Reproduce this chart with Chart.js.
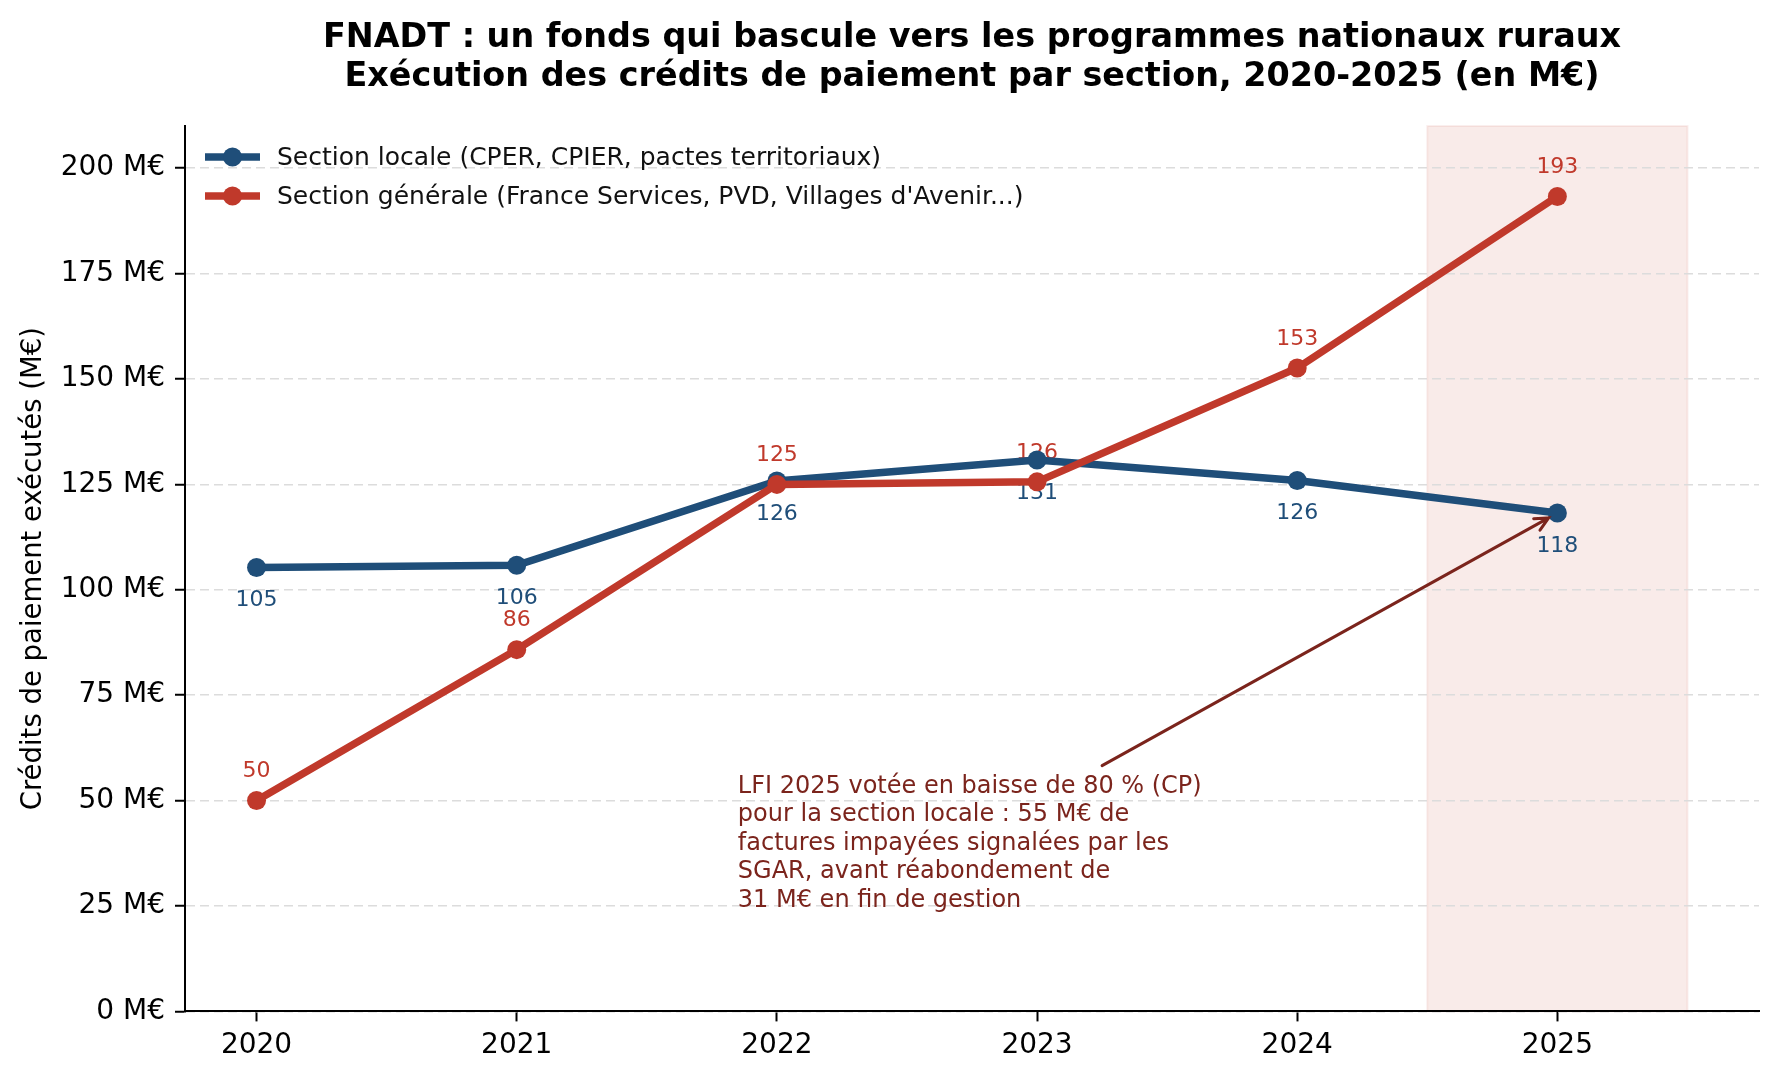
<!DOCTYPE html>
<html lang="fr">
<head>
<meta charset="utf-8">
<title>FNADT</title>
<script src="https://cdn.jsdelivr.net/npm/chart.js@4.4.1/dist/chart.umd.min.js"></script>
<style>
    html, body { margin: 0; padding: 0; background: #fff; }
    canvas { display: block; }
</style>
</head>
<body>
<canvas id="myChart" width="1779" height="1080"></canvas>
<script>
// données (M€)
const YEARS = [2020, 2021, 2022, 2023, 2024, 2025];
const LOCALE = [105.3, 105.8, 125.8, 130.8, 125.9, 118.2];
const GENERALE = [50.0, 85.8, 125.0, 125.6, 152.6, 193.3];
const Y_TICKS = [0, 25, 50, 75, 100, 125, 150, 175, 200];
const SERIES_NAMES = [
    'Section locale (CPER, CPIER, pactes territoriaux)',
    'Section générale (France Services, PVD, Villages d\'Avenir...)'
];
const TITLE_LINES = [
    'FNADT : un fonds qui bascule vers les programmes nationaux ruraux',
    'Exécution des crédits de paiement par section, 2020-2025 (en M€)'
];
const Y_LABEL = 'Crédits de paiement exécutés (M€)';
const NOTE_LINES = [
    'LFI 2025 votée en baisse de 80 % (CP)',
    'pour la section locale : 55 M€ de',
    'factures impayées signalées par les',
    'SGAR, avant réabondement de',
    '31 M€ en fin de gestion'
];
const NOTE_AT = [2021.85, 51.9];     // position du texte (x, y de la 1re ligne)
const ARROW_FROM = [2023.25, 58.3];  // départ de la flèche
const HIGHLIGHT = [2024.5, 2025.5];  // bande 2025

const BLUE = '#1f4e79';
const RED = '#c0392b';
const NOTE_COLOR = '#7b241c';
const FONT = "'DejaVu Sans', sans-serif";

let myChart

const extras = {
    id: 'extras',
    beforeDraw(chart) {
        const {ctx, chartArea: a, scales: {x}} = chart;
        ctx.save();
        ctx.fillStyle = '#fff';
        ctx.fillRect(0, 0, chart.width, chart.height);
        const x0 = x.getPixelForValue(HIGHLIGHT[0]);
        const x1 = x.getPixelForValue(HIGHLIGHT[1]);
        ctx.fillStyle = 'rgba(192, 57, 43, 0.1)';
        ctx.fillRect(x0, a.top, x1 - x0, a.bottom - a.top);
        ctx.strokeStyle = 'rgba(192, 57, 43, 0.08)';
        ctx.lineWidth = 2;
        ctx.strokeRect(x0, a.top, x1 - x0, a.bottom - a.top);

        // titre
        ctx.fillStyle = '#000';
        ctx.font = 'bold 33.4px ' + FONT;
        ctx.textAlign = 'center';
        ctx.textBaseline = 'middle';
        const cx = (a.left + a.right) / 2;
        ctx.fillText(TITLE_LINES[0], cx, 38);
        ctx.fillText(TITLE_LINES[1], cx, 77);
        ctx.restore();
    },
    beforeDatasetsDraw(chart) {
        // étiquettes de valeurs
        const {ctx} = chart;
        ctx.save();
        ctx.font = '22px ' + FONT;
        ctx.textAlign = 'center';
        ctx.textBaseline = 'middle';
        chart.data.datasets.forEach((ds, di) => {
            const meta = chart.getDatasetMeta(di);
            const dy = di === 0 ? 33 : -29;
            ctx.fillStyle = ds.borderColor;
            meta.data.forEach((pt, i) => {
                ctx.fillText(Math.round(ds.data[i].y), pt.x, pt.y + dy);
            });
        });
        ctx.restore();
    },
    afterDatasetsDraw(chart) {
        const {ctx, chartArea: a, scales: {x, y}} = chart;
        ctx.save();

        // note
        ctx.fillStyle = NOTE_COLOR;
        ctx.font = '24px ' + FONT;
        ctx.textAlign = 'left';
        ctx.textBaseline = 'alphabetic';
        const tx = x.getPixelForValue(NOTE_AT[0]);
        const ty = y.getPixelForValue(NOTE_AT[1]);
        NOTE_LINES.forEach((l, i) => ctx.fillText(l, tx, ty + i * 28.5));

        // flèche vers le point 2025 de la section locale
        const sx = x.getPixelForValue(ARROW_FROM[0]);
        const sy = y.getPixelForValue(ARROW_FROM[1]);
        const target = chart.getDatasetMeta(0).data[YEARS.length - 1];
        const ang = Math.atan2(target.y - sy, target.x - sx);
        const ex = target.x - 10 * Math.cos(ang);
        const ey = target.y - 10 * Math.sin(ang);
        ctx.strokeStyle = NOTE_COLOR;
        ctx.lineWidth = 3;
        ctx.lineCap = 'round';
        ctx.beginPath();
        ctx.moveTo(sx, sy);
        ctx.lineTo(ex, ey);
        ctx.moveTo(ex - 15 * Math.cos(ang - 0.45), ey - 15 * Math.sin(ang - 0.45));
        ctx.lineTo(ex, ey);
        ctx.lineTo(ex - 15 * Math.cos(ang + 0.45), ey - 15 * Math.sin(ang + 0.45));
        ctx.stroke();

        // légende
        ctx.font = '25px ' + FONT;
        ctx.textBaseline = 'middle';
        chart.data.datasets.forEach((ds, i) => {
            const ly = a.top + 31 + i * 39;
            const lx = a.left + 20;
            ctx.strokeStyle = ds.borderColor;
            ctx.lineWidth = 7.5;
            ctx.lineCap = 'butt';
            ctx.beginPath();
            ctx.moveTo(lx, ly);
            ctx.lineTo(lx + 55, ly);
            ctx.stroke();
            ctx.fillStyle = ds.borderColor;
            ctx.beginPath();
            ctx.arc(lx + 27.5, ly, 9.5, 0, Math.PI * 2);
            ctx.fill();
            ctx.fillStyle = '#111';
            ctx.fillText(ds.label, lx + 72, ly + 1);
        });
        ctx.restore();
    }
};

function ChartFnadt() {
    const ctx = InitChart();
    myChart = new Chart(ctx, {
        type: 'line',
        data: {
            datasets: [{
                label: SERIES_NAMES[0],
                data: YEARS.map((yr, i) => ({x: yr, y: LOCALE[i]})),
                borderColor: BLUE,
                backgroundColor: BLUE,
                pointBackgroundColor: BLUE,
                borderWidth: 7.5,
                pointRadius: 9.5,
                pointBorderWidth: 0,
                tension: 0,
                order: 1
            }, {
                label: SERIES_NAMES[1],
                data: YEARS.map((yr, i) => ({x: yr, y: GENERALE[i]})),
                borderColor: RED,
                backgroundColor: RED,
                pointBackgroundColor: RED,
                borderWidth: 7.5,
                pointRadius: 9.5,
                pointBorderWidth: 0,
                tension: 0,
                order: 0
            }]
        },
        options: {
            responsive: false,
            animation: false,
            devicePixelRatio: 1,
            layout: {
                padding: {top: 126, left: 10, right: 20, bottom: 9}
            },
            plugins: {
                legend: {display: false},
                title: {display: false},
                tooltip: {enabled: false}
            },
            scales: {
                x: {
                    type: 'linear',
                    min: 2019.725,
                    max: 2025.775,
                    afterBuildTicks: s => { s.ticks = YEARS.map(v => ({value: v})); },
                    ticks: {
                        color: '#000',
                        font: {family: FONT, size: 28},
                        padding: 8,
                        maxRotation: 0,
                        callback: v => String(v)
                    },
                    grid: {
                        drawOnChartArea: false,
                        drawTicks: true,
                        tickLength: 10,
                        tickWidth: 2,
                        tickColor: '#000'
                    },
                    border: {color: '#000', width: 2}
                },
                y: {
                    min: 0,
                    max: 210,
                    afterBuildTicks: s => { s.ticks = Y_TICKS.map(v => ({value: v})); },
                    afterFit: s => { s.width = 175; },
                    ticks: {
                        color: '#000',
                        font: {family: FONT, size: 28},
                        padding: 10,
                        callback: v => v + ' M€'
                    },
                    grid: {
                        color: '#dcdcdc',
                        lineWidth: 1.5,
                        drawTicks: true,
                        tickLength: 10,
                        tickWidth: 2,
                        tickColor: '#000'
                    },
                    border: {color: '#000', width: 2, dash: [9, 5]},
                    title: {
                        display: true,
                        text: Y_LABEL,
                        color: '#000',
                        font: {family: FONT, size: 27.5},
                        padding: {top: 7, bottom: 10}
                    }
                }
            }
        },
        plugins: [extras]
    });
}

function InitChart() {
    let ctx = document.getElementById('myChart');
    if (myChart) {
        myChart.destroy();
    }
    return ctx;
}

ChartFnadt();
</script>
</body>
</html>
